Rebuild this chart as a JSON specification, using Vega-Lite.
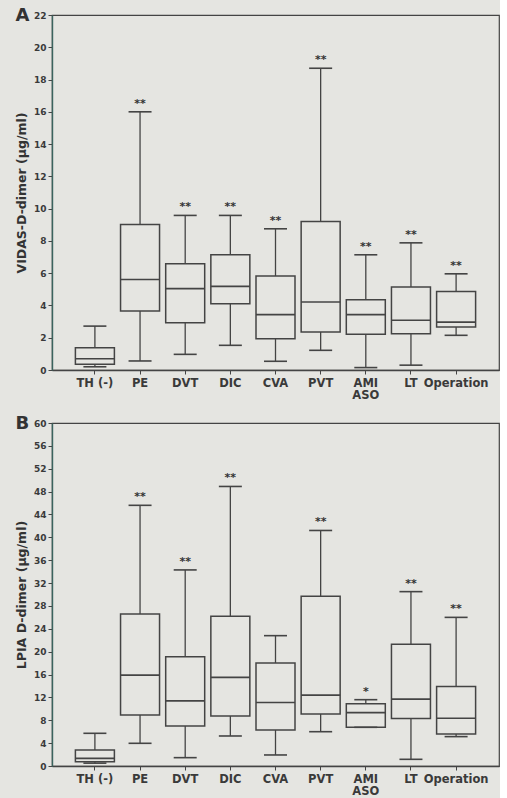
{
  "$schema": "https://vega.github.io/schema/vega-lite/v6.json",
  "background": "#e5e5e1",
  "padding": {"left": 14, "top": 6, "right": 0, "bottom": 0},
  "datasets": {
    "A": [
      {"group": "TH (-)", "min": 0.2, "q1": 0.35, "med": 0.7, "q3": 1.38, "max": 2.72, "sig": ""},
      {"group": "PE", "min": 0.56, "q1": 3.65, "med": 5.61, "q3": 9.02, "max": 16.0, "sig": "**"},
      {"group": "DVT", "min": 0.97, "q1": 2.93, "med": 5.04, "q3": 6.58, "max": 9.58, "sig": "**"},
      {"group": "DIC", "min": 1.53, "q1": 4.11, "med": 5.18, "q3": 7.14, "max": 9.58, "sig": "**"},
      {"group": "CVA", "min": 0.54, "q1": 1.94, "med": 3.43, "q3": 5.82, "max": 8.75, "sig": "**"},
      {"group": "PVT", "min": 1.22, "q1": 2.35, "med": 4.21, "q3": 9.21, "max": 18.7, "sig": "**"},
      {"group": "AMI ASO", "min": 0.15, "q1": 2.21, "med": 3.43, "q3": 4.35, "max": 7.14, "sig": "**"},
      {"group": "LT", "min": 0.3, "q1": 2.25, "med": 3.08, "q3": 5.14, "max": 7.88, "sig": "**"},
      {"group": "Operation", "min": 2.15, "q1": 2.66, "med": 2.97, "q3": 4.87, "max": 5.96, "sig": "**"}
    ],
    "B": [
      {"group": "TH (-)", "min": 0.5, "q1": 0.76, "med": 1.34, "q3": 2.8, "max": 5.72, "sig": ""},
      {"group": "PE", "min": 3.97, "q1": 8.93, "med": 15.9, "q3": 26.6, "max": 45.6, "sig": "**"},
      {"group": "DVT", "min": 1.46, "q1": 7.0, "med": 11.4, "q3": 19.1, "max": 34.3, "sig": "**"},
      {"group": "DIC", "min": 5.25, "q1": 8.76, "med": 15.5, "q3": 26.2, "max": 48.9, "sig": "**"},
      {"group": "CVA", "min": 1.93, "q1": 6.3, "med": 11.1, "q3": 18.0, "max": 22.8, "sig": ""},
      {"group": "PVT", "min": 6.0, "q1": 9.1, "med": 12.4, "q3": 29.7, "max": 41.2, "sig": "**"},
      {"group": "AMI ASO", "min": 6.77, "q1": 6.77, "med": 9.34, "q3": 10.9, "max": 11.6, "sig": "*"},
      {"group": "LT", "min": 1.17, "q1": 8.3, "med": 11.7, "q3": 21.3, "max": 30.5, "sig": "**"},
      {"group": "Operation", "min": 5.14, "q1": 5.6, "med": 8.35, "q3": 13.9, "max": 26.0, "sig": "**"}
    ]
  },
  "config": {
    "font": "DejaVu Sans",
    "view": {"stroke": "#444444", "strokeWidth": 1.2},
    "axis": {
      "grid": false,
      "labelFont": "DejaVu Sans",
      "labelFontWeight": "bold",
      "labelColor": "#3a3a3a",
      "labelOverlap": false,
      "labelFlush": false,
      "labelBound": false,
      "tickColor": "#444444",
      "domainColor": "#444444",
      "domainWidth": 1.4,
      "tickSize": 4,
      "titleFont": "DejaVu Sans",
      "titleFontWeight": "bold",
      "titleColor": "#333333"
    },
    "title": {"font": "DejaVu Sans", "fontWeight": "bold", "color": "#333333"}
  },
  "spacing": 12,
  "vconcat": [
    {
      "width": 447,
      "height": 355,
      "data": {"name": "A"},
      "title": {"text": "A", "anchor": "start", "fontSize": 18, "dx": 0, "dy": 14, "offset": 0},
      "encoding": {
        "x": {
          "field": "group", "type": "nominal", "sort": null,
          "scale": {"paddingOuter": 0.45, "paddingInner": 0},
          "axis": {"title": null, "labelAngle": 0, "labelFontSize": 11.5, "labelPadding": 3, "labelLineHeight": 12.5,
                   "labelExpr": "datum.value == 'AMI ASO' ? ['AMI', 'ASO'] : datum.label"}
        }
      },
      "layer": [
        {
          "mark": {"type": "rule", "color": "#444444", "strokeWidth": 1.3},
          "encoding": {
            "y": {"field": "min", "type": "quantitative",
                  "scale": {"domain": [0, 22], "nice": false, "zero": true},
                  "axis": {"title": "VIDAS-D-dimer (μg/ml)", "titleFontSize": 12.5, "titlePadding": 5,
                           "values": [0, 2, 4, 6, 8, 10, 12, 14, 16, 18, 20, 22], "tickCount": 12,
                           "labelFontSize": 9, "domainColor": "#3b645e"}},
            "y2": {"field": "max"}
          }
        },
        {
          "mark": {"type": "bar", "width": 39, "fill": "#e5e5e1", "stroke": "#444444", "strokeWidth": 1.5},
          "encoding": {"y": {"field": "q1", "type": "quantitative",
                  "axis": {"title": "VIDAS-D-dimer (μg/ml)", "titleFontSize": 12.5, "titlePadding": 5,
                           "values": [0, 2, 4, 6, 8, 10, 12, 14, 16, 18, 20, 22], "tickCount": 12,
                           "labelFontSize": 9, "domainColor": "#3b645e"}}, "y2": {"field": "q3"}}
        },
        {
          "mark": {"type": "tick", "size": 39, "thickness": 1.6, "color": "#444444", "opacity": 1},
          "encoding": {"y": {"field": "med", "type": "quantitative",
                  "axis": {"title": "VIDAS-D-dimer (μg/ml)", "titleFontSize": 12.5, "titlePadding": 5,
                           "values": [0, 2, 4, 6, 8, 10, 12, 14, 16, 18, 20, 22], "tickCount": 12,
                           "labelFontSize": 9, "domainColor": "#3b645e"}}}
        },
        {
          "mark": {"type": "tick", "size": 23, "thickness": 1.6, "color": "#444444", "opacity": 1},
          "encoding": {"y": {"field": "max", "type": "quantitative",
                  "axis": {"title": "VIDAS-D-dimer (μg/ml)", "titleFontSize": 12.5, "titlePadding": 5,
                           "values": [0, 2, 4, 6, 8, 10, 12, 14, 16, 18, 20, 22], "tickCount": 12,
                           "labelFontSize": 9, "domainColor": "#3b645e"}}}
        },
        {
          "mark": {"type": "tick", "size": 23, "thickness": 1.6, "color": "#444444", "opacity": 1},
          "encoding": {"y": {"field": "min", "type": "quantitative",
                  "axis": {"title": "VIDAS-D-dimer (μg/ml)", "titleFontSize": 12.5, "titlePadding": 5,
                           "values": [0, 2, 4, 6, 8, 10, 12, 14, 16, 18, 20, 22], "tickCount": 12,
                           "labelFontSize": 9, "domainColor": "#3b645e"}}}
        },
        {
          "mark": {"type": "text", "dy": -8, "fontSize": 11, "fontWeight": "bold", "color": "#333333"},
          "encoding": {"y": {"field": "max", "type": "quantitative",
                  "axis": {"title": "VIDAS-D-dimer (μg/ml)", "titleFontSize": 12.5, "titlePadding": 5,
                           "values": [0, 2, 4, 6, 8, 10, 12, 14, 16, 18, 20, 22], "tickCount": 12,
                           "labelFontSize": 9, "domainColor": "#3b645e"}}, "text": {"field": "sig"}}
        }
      ]
    },
    {
      "width": 447,
      "height": 343,
      "data": {"name": "B"},
      "title": {"text": "B", "anchor": "start", "fontSize": 18, "dx": 0, "dy": 14, "offset": 0},
      "encoding": {
        "x": {
          "field": "group", "type": "nominal", "sort": null,
          "scale": {"paddingOuter": 0.45, "paddingInner": 0},
          "axis": {"title": null, "labelAngle": 0, "labelFontSize": 11.5, "labelPadding": 3, "labelLineHeight": 12.5,
                   "labelExpr": "datum.value == 'AMI ASO' ? ['AMI', 'ASO'] : datum.label"}
        }
      },
      "layer": [
        {
          "mark": {"type": "rule", "color": "#444444", "strokeWidth": 1.3},
          "encoding": {
            "y": {"field": "min", "type": "quantitative",
                  "scale": {"domain": [0, 60], "nice": false, "zero": true},
                  "axis": {"title": "LPIA D-dimer (μg/ml)", "titleFontSize": 12.5, "titlePadding": 5,
                           "values": [0, 4, 8, 12, 16, 20, 24, 28, 32, 36, 40, 44, 48, 52, 56, 60], "tickCount": 16,
                           "labelFontSize": 9, "domainColor": "#3b645e"}},
            "y2": {"field": "max"}
          }
        },
        {
          "mark": {"type": "bar", "width": 39, "fill": "#e5e5e1", "stroke": "#444444", "strokeWidth": 1.5},
          "encoding": {"y": {"field": "q1", "type": "quantitative",
                  "axis": {"title": "LPIA D-dimer (μg/ml)", "titleFontSize": 12.5, "titlePadding": 5,
                           "values": [0, 4, 8, 12, 16, 20, 24, 28, 32, 36, 40, 44, 48, 52, 56, 60], "tickCount": 16,
                           "labelFontSize": 9, "domainColor": "#3b645e"}}, "y2": {"field": "q3"}}
        },
        {
          "mark": {"type": "tick", "size": 39, "thickness": 1.6, "color": "#444444", "opacity": 1},
          "encoding": {"y": {"field": "med", "type": "quantitative",
                  "axis": {"title": "LPIA D-dimer (μg/ml)", "titleFontSize": 12.5, "titlePadding": 5,
                           "values": [0, 4, 8, 12, 16, 20, 24, 28, 32, 36, 40, 44, 48, 52, 56, 60], "tickCount": 16,
                           "labelFontSize": 9, "domainColor": "#3b645e"}}}
        },
        {
          "mark": {"type": "tick", "size": 23, "thickness": 1.6, "color": "#444444", "opacity": 1},
          "encoding": {"y": {"field": "max", "type": "quantitative",
                  "axis": {"title": "LPIA D-dimer (μg/ml)", "titleFontSize": 12.5, "titlePadding": 5,
                           "values": [0, 4, 8, 12, 16, 20, 24, 28, 32, 36, 40, 44, 48, 52, 56, 60], "tickCount": 16,
                           "labelFontSize": 9, "domainColor": "#3b645e"}}}
        },
        {
          "mark": {"type": "tick", "size": 23, "thickness": 1.6, "color": "#444444", "opacity": 1},
          "encoding": {"y": {"field": "min", "type": "quantitative",
                  "axis": {"title": "LPIA D-dimer (μg/ml)", "titleFontSize": 12.5, "titlePadding": 5,
                           "values": [0, 4, 8, 12, 16, 20, 24, 28, 32, 36, 40, 44, 48, 52, 56, 60], "tickCount": 16,
                           "labelFontSize": 9, "domainColor": "#3b645e"}}}
        },
        {
          "mark": {"type": "text", "dy": -8, "fontSize": 11, "fontWeight": "bold", "color": "#333333"},
          "encoding": {"y": {"field": "max", "type": "quantitative",
                  "axis": {"title": "LPIA D-dimer (μg/ml)", "titleFontSize": 12.5, "titlePadding": 5,
                           "values": [0, 4, 8, 12, 16, 20, 24, 28, 32, 36, 40, 44, 48, 52, 56, 60], "tickCount": 16,
                           "labelFontSize": 9, "domainColor": "#3b645e"}}, "text": {"field": "sig"}}
        }
      ]
    }
  ]
}
